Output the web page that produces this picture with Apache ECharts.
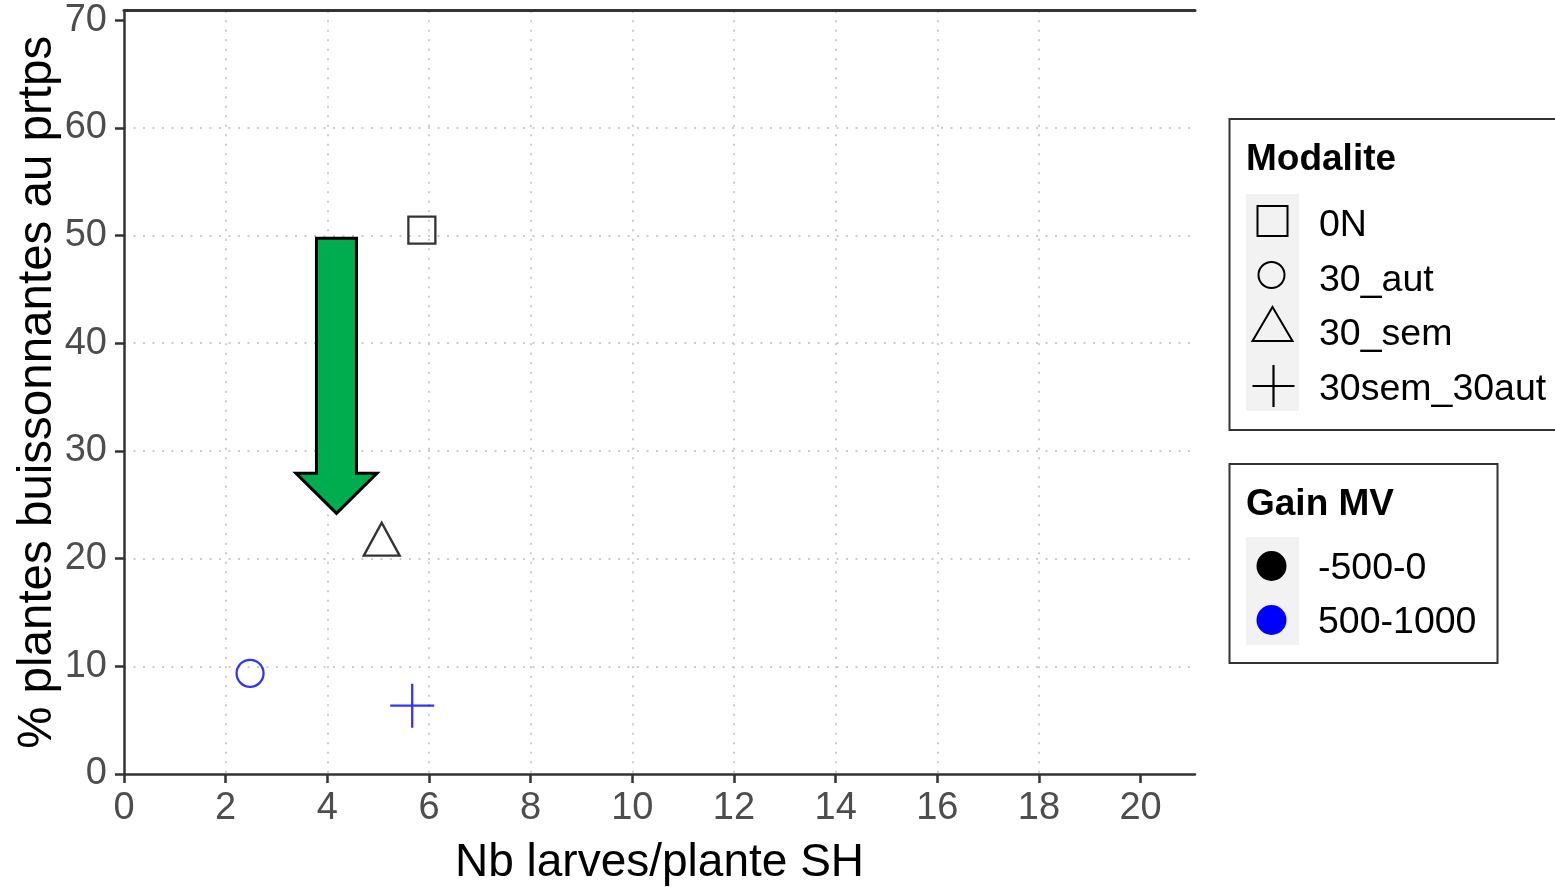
<!DOCTYPE html>
<html>
<head>
<meta charset="utf-8">
<script src="https://cdn.jsdelivr.net/npm/echarts@6/dist/echarts.min.js"></script>
<style>
html,body{margin:0;padding:0;background:#fff;}
#chart{width:1555px;height:887px;}
</style>
</head>
<body>
<div id="chart"></div>
<script>
// ---- data ----
const modalites = ['0N', '30_aut', '30_sem', '30sem_30aut'];
const xValues = [5.86, 2.48, 5.07, 5.67];
const yValues = [50.5, 9.35, 21.8, 6.34];
const gainOfPoint = ['-500-0', '500-1000', '-500-0', '500-1000'];
const gainLevels = ['-500-0', '500-1000'];
const xTicks = [0, 2, 4, 6, 8, 10, 12, 14, 16, 18, 20];
const yTicks = [0, 10, 20, 30, 40, 50, 60, 70];
// annotation arrow: [x, top of shaft, base of head, tip]
const arrowData = [[4.18, 49.74, 27.92, 24.2]];
const xTitle = 'Nb larves/plante SH';
const yTitle = '% plantes buissonnantes au prtps';
const legendTitle1 = 'Modalite';
const legendTitle2 = 'Gain MV';

// ---- styles ----
const FONT = '"Liberation Sans", Arial, sans-serif';
const gainColors = { '-500-0': '#000000', '500-1000': '#0000ff' };
const plusPath = 'path://M1,0L1,2M0,1L2,1';
const shapeStyle = {
  '0N': { symbol: 'rect', size: 27 },
  '30_aut': { symbol: 'circle', size: 27 },
  '30_sem': { symbol: 'triangle', size: [36, 33] },
  '30sem_30aut': { symbol: plusPath, size: 44 }
};

const chart = echarts.init(document.getElementById('chart'));

const pointSeries = modalites.map((m, i) => ({
  type: 'scatter',
  name: m,
  z: 5,
  symbol: shapeStyle[m].symbol,
  symbolSize: shapeStyle[m].size,
  itemStyle: {
    color: 'rgba(0,0,0,0)',
    borderColor: gainColors[gainOfPoint[i]],
    borderWidth: 2.3
  },
  emphasis: { disabled: true },
  data: [[xValues[i], yValues[i]]]
}));

const arrowSeries = {
  type: 'custom',
  name: 'arrow',
  z: 4,
  encode: { x: 0, y: [1, 2, 3] },
  renderItem: function (params, api) {
    const top = api.coord([api.value(0), api.value(1)]);
    const base = api.coord([api.value(0), api.value(2)]);
    const tip = api.coord([api.value(0), api.value(3)]);
    const bw = 20, hw = 40.5;
    return {
      type: 'polygon',
      shape: {
        points: [
          [top[0] - bw, top[1]], [top[0] + bw, top[1]], [top[0] + bw, base[1]],
          [top[0] + hw, base[1]], [tip[0], tip[1]], [top[0] - hw, base[1]],
          [top[0] - bw, base[1]]
        ]
      },
      style: { fill: '#00ad4e', stroke: '#000', lineWidth: 3, lineJoin: 'miter' }
    };
  },
  data: arrowData
};

const grid = { left: 124, right: 360, top: 10.7, bottom: 113, containLabel: false, outerBoundsMode: 'none' };
const xMax = 21.07, yMax = 70.87;
const dotted = { color: '#cccccc', width: 2, type: [2, 7.5] };

// legend graphics
const g = [];
// box 1
g.push({ type: 'rect', shape: { x: 1229.5, y: 119, width: 340, height: 311 }, style: { fill: '#fff', stroke: '#333', lineWidth: 2 } });
g.push({ type: 'text', x: 1246, y: 160, style: { text: legendTitle1, font: 'bold 37px ' + FONT, fill: '#000', verticalAlign: 'middle' } });
g.push({ type: 'rect', shape: { x: 1246, y: 194, width: 53, height: 217 }, style: { fill: '#f2f2f2' } });
const rowY1 = [222, 277, 331, 386];
const keyX = 1272.5;
g.push({ type: 'rect', shape: { x: keyX - 15, y: rowY1[0] - 16, width: 30, height: 30 }, style: { fill: 'none', stroke: '#000', lineWidth: 2 } });
g.push({ type: 'circle', shape: { cx: keyX - 1, cy: rowY1[1] - 2, r: 13 }, style: { fill: 'none', stroke: '#000', lineWidth: 2 } });
g.push({ type: 'polygon', shape: { points: [[keyX, rowY1[2] - 24], [keyX + 20, rowY1[2] + 10], [keyX - 20, rowY1[2] + 10]] }, style: { fill: 'none', stroke: '#000', lineWidth: 2 } });
g.push({ type: 'polyline', shape: { points: [[keyX + 1, rowY1[3] - 21], [keyX + 1, rowY1[3] + 21]] }, style: { stroke: '#000', lineWidth: 2.2 } });
g.push({ type: 'polyline', shape: { points: [[keyX - 20, rowY1[3]], [keyX + 22, rowY1[3]]] }, style: { stroke: '#000', lineWidth: 2.2 } });
modalites.forEach((m, i) => {
  g.push({ type: 'text', x: 1319, y: rowY1[i] + 4, style: { text: m, font: '37.5px ' + FONT, fill: '#000', verticalAlign: 'middle' } });
});
// box 2
g.push({ type: 'rect', shape: { x: 1229.5, y: 464, width: 268, height: 199 }, style: { fill: '#fff', stroke: '#333', lineWidth: 2 } });
g.push({ type: 'text', x: 1246, y: 505, style: { text: legendTitle2, font: 'bold 37px ' + FONT, fill: '#000', verticalAlign: 'middle' } });
g.push({ type: 'rect', shape: { x: 1246, y: 537, width: 53, height: 108 }, style: { fill: '#f2f2f2' } });
const rowY2 = [566, 620];
gainLevels.forEach((lv, i) => {
  g.push({ type: 'circle', shape: { cx: 1271.5, cy: rowY2[i], r: 15 }, style: { fill: gainColors[lv] } });
  g.push({ type: 'text', x: 1318, y: rowY2[i] + 3, style: { text: lv, font: '37.5px ' + FONT, fill: '#000', verticalAlign: 'middle' } });
});

const option = {
  animation: false,
  backgroundColor: '#fff',
  grid: grid,
  xAxis: [{
    type: 'value', min: 0, max: xMax, interval: 2, position: 'bottom',
    name: xTitle, nameLocation: 'middle', nameGap: 66, nameMoveOverlap: false,
    nameTextStyle: { fontSize: 46, color: '#000', fontFamily: FONT },
    axisLine: { show: true, onZero: false, lineStyle: { color: '#333', width: 2.5 } },
    axisTick: { show: true, length: 9, lineStyle: { color: '#333', width: 2.5 }, customValues: xTicks },
    axisLabel: { fontSize: 38, color: '#4d4d4d', fontFamily: FONT, margin: 16, customValues: xTicks },
    splitLine: { show: true, showMinLine: false, showMaxLine: false, lineStyle: dotted }
  }, {
    type: 'value', min: 0, max: xMax, position: 'top',
    axisLine: { show: true, onZero: false, lineStyle: { color: '#333', width: 3 } },
    axisTick: { show: false }, axisLabel: { show: false }, splitLine: { show: false }
  }],
  yAxis: {
    type: 'value', min: 0, max: yMax, interval: 10,
    name: yTitle, nameLocation: 'middle', nameGap: 62, nameRotate: 90, nameMoveOverlap: false,
    nameTextStyle: { fontSize: 47.5, color: '#000', fontFamily: FONT },
    axisLine: { show: true, onZero: false, lineStyle: { color: '#333', width: 2.5 } },
    axisTick: { show: true, length: 9, lineStyle: { color: '#333', width: 2.5 }, customValues: yTicks },
    axisLabel: { fontSize: 38, color: '#4d4d4d', fontFamily: FONT, margin: 17, customValues: yTicks },
    splitLine: { show: true, showMinLine: false, showMaxLine: false, lineStyle: dotted }
  },
  series: [arrowSeries].concat(pointSeries),
  graphic: g
};
chart.setOption(option);
</script>
</body>
</html>
